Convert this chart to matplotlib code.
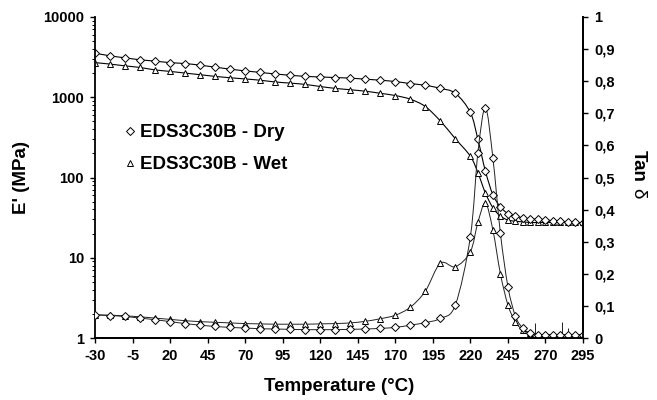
import numpy as np
import matplotlib
matplotlib.use("Agg")
import matplotlib.pyplot as plt
from matplotlib.path import Path
from matplotlib.patches import PathPatch
from matplotlib.lines import Line2D
from matplotlib.ticker import FixedLocator, LogLocator, NullFormatter

plt.rcParams.update({"font.family": ["Liberation Sans", "DejaVu Sans"], "font.weight": "bold",
                     "axes.unicode_minus": False})

# DMA scan, 10 °C steps up to 220 °C, then 5 °C steps
T = [-30, -20, -10, 0, 10, 20, 30, 40, 50, 60, 70, 80, 90, 100, 110, 120, 130, 140, 150, 160,
     170, 180, 190, 200, 210, 220, 225, 230, 235, 240, 245, 250, 255, 260, 265, 270, 275, 280,
     285, 290, 295]
E_dry = [3550, 3280, 3100, 2930, 2820, 2700, 2630, 2510, 2370, 2240, 2130, 2040, 1950, 1880,
         1820, 1790, 1760, 1730, 1680, 1630, 1570, 1480, 1410, 1290, 1120, 646, 299, 120, 61,
         43, 35.5, 33, 31.5, 30.5, 30, 29.5, 29, 28.5, 28, 27.5, 27]
E_wet = [2700, 2590, 2460, 2350, 2190, 2100, 2000, 1910, 1820, 1750, 1690, 1630, 1550, 1500,
         1445, 1360, 1290, 1240, 1190, 1120, 1050, 945, 766, 506, 304, 184, 115, 64, 42, 33,
         29.5, 28.5, 28, 27.5, 27.5, 27.5, 27.5, 27.5, 27.5, 27.5, 27.5]
tan_dry = [0.072, 0.070, 0.067, 0.062, 0.057, 0.051, 0.045, 0.040, 0.036, 0.033, 0.031, 0.029,
           0.028, 0.027, 0.026, 0.026, 0.026, 0.027, 0.028, 0.030, 0.033, 0.040, 0.048, 0.061,
           0.103, 0.316, 0.577, 0.717, 0.560, 0.326, 0.160, 0.068, 0.030, 0.015, 0.010, 0.010,
           0.010, 0.010, 0.010, 0.010, 0.010]
tan_wet = [0.072, 0.071, 0.069, 0.066, 0.062, 0.058, 0.054, 0.051, 0.049, 0.047, 0.045, 0.044,
           0.043, 0.043, 0.043, 0.044, 0.045, 0.047, 0.052, 0.060, 0.071, 0.096, 0.146, 0.233,
           0.222, 0.269, 0.360, 0.420, 0.336, 0.200, 0.103, 0.050, 0.025, 0.015, 0.010, 0.010,
           0.010, 0.010, 0.010, 0.010, 0.010]
# noise spikes in the raw tan delta trace
spike_T = [263, 281, 285]
spike_top = [0.046, 0.049, 0.030]

xticks = list(range(-30, 296, 25))
E_ticks = [1, 10, 100, 1000, 10000]
tan_ticks = [round(0.1 * i, 1) for i in range(11)]


def smooth(ax, x, y, log=False, **kw):
    # Catmull-Rom style bezier through the points (log space for log axes)
    x = np.asarray(x, float); y = np.asarray(y, float)
    if log: y = np.log10(y)
    xp = np.r_[x[0], x, x[-1]]; yp = np.r_[y[0], y, y[-1]]
    verts = [(x[0], y[0])]; codes = [Path.MOVETO]
    for i in range(len(x) - 1):
        c1 = (x[i] + (xp[i + 2] - xp[i]) / 6, y[i] + (yp[i + 2] - yp[i]) / 6)
        c2 = (x[i + 1] - (xp[i + 3] - xp[i + 1]) / 6, y[i + 1] - (yp[i + 3] - yp[i + 1]) / 6)
        verts += [c1, c2, (x[i + 1], y[i + 1])]; codes += [Path.CURVE4] * 3
    v = np.array(verts)
    if log: v[:, 1] = 10 ** v[:, 1]
    ax.add_patch(PathPatch(Path(v, codes), fill=False, **kw))


fig = plt.figure(figsize=(6.57, 4.0), dpi=100)
ax = fig.add_axes([95 / 657, 1 - 338 / 400, 488 / 657, 321 / 400])
ax2 = ax.twinx()

mk_d = dict(marker="D", ms=3.8, mfc="white", mec="black", mew=0.7, ls="none")
mk_t = dict(marker="^", ms=5, mfc="white", mec="black", mew=0.7, ls="none")

ax.set_yscale("log")
smooth(ax, T, E_dry, log=True, color="black", lw=0.8)
smooth(ax, T, E_wet, log=True, color="black", lw=0.8)
ax.plot(T, E_wet, **mk_t)
ax.plot(T, E_dry, **mk_d)

smooth(ax2, T, tan_dry, color="#222222", lw=0.7)
smooth(ax2, T, tan_wet, color="#222222", lw=0.7)
ax2.vlines(spike_T, 0.01, spike_top, color="#222222", lw=0.7)
ax2.plot(T, tan_wet, **mk_t)
ax2.plot(T, tan_dry, **mk_d)

ax.set_xlim(-30, 295)
ax.set_ylim(1, 10000)
ax2.set_ylim(0, 1)

ax.set_xticks(xticks)
ax.yaxis.set_major_locator(FixedLocator(E_ticks))
ax.set_yticklabels([str(v) for v in E_ticks])
ax.yaxis.set_minor_locator(LogLocator(base=10, subs=np.arange(2, 10)))
ax.yaxis.set_minor_formatter(NullFormatter())
ax2.set_yticks(tan_ticks)
ax2.set_yticklabels(["0" if v == 0 else "1" if v == 1 else f"{v:.1f}".replace(".", ",") for v in tan_ticks])

for a in (ax, ax2):
    a.spines["top"].set_visible(False)
    for s in ("left", "right", "bottom"):
        a.spines[s].set_linewidth(1.3)
    a.tick_params(which="major", direction="out", length=3.5, width=1.0, labelsize=10.5, pad=4.5)
    a.tick_params(which="minor", direction="out", length=2, width=0.7)
ax2.spines["left"].set_visible(False)

ax.set_xlabel("Temperature (°C)", fontsize=13.5, fontweight="bold", labelpad=11)
fig.text(22 / 657, 1 - 177 / 400, "E' (MPa)", rotation=90, ha="center", va="center",
         fontsize=13.5, fontweight="bold")
fig.text(638 / 657, 1 - 166 / 400, "Tan", rotation=-90, ha="center", va="center",
         fontsize=13.5, fontweight="bold")
fig.text(638 / 657, 1 - 193 / 400, "δ", rotation=-90, ha="center", va="center",
         fontsize=13.5, fontweight="normal")

handles = [Line2D([], [], **mk_d), Line2D([], [], **mk_t)]
ax2.legend(handles, ["EDS3C30B - Dry", "EDS3C30B - Wet"], loc="upper left",
           bbox_to_anchor=(124 / 657, 1 - 124 / 400), bbox_transform=fig.transFigure,
           frameon=False, handlelength=0.6, handletextpad=0.25,
           labelspacing=0.8, borderpad=0, borderaxespad=0, prop={"weight": "bold", "size": 13.5})

fig.savefig("out.png", dpi=100)
